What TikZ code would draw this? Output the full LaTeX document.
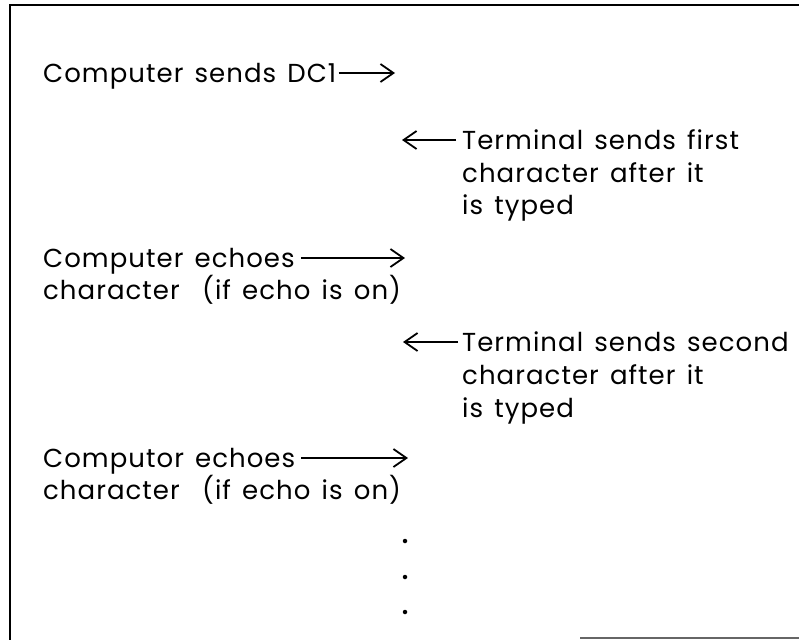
\documentclass[tikz,border=0pt]{standalone}
\usepackage{fontspec}
\setmainfont[LetterSpace=4,WordSpace=1.4]{Poppins}
\usetikzlibrary{arrows.meta}
\tikzset{
  txt/.style={anchor=base west, inner sep=0pt, font=\fontsize{26}{33}\selectfont},
  arr/.style={line width=1.8pt, -{Straight Barb[length=13pt,width=18pt,line width=1.8pt]}},
  frame/.style={line width=2pt},
  dotmark/.style={circle, fill, inner sep=0pt, minimum size=4.5pt}
}
\begin{document}
\begin{tikzpicture}[x=1pt,y=-1pt]
\useasboundingbox (0,0) rectangle (799,640);
% frame
\coordinate (fTR) at (799,5);
\coordinate (fTL) at (10,5);
\coordinate (fBL) at (10,640);
\coordinate (fB1) at (580,638);
\coordinate (fB2) at (799,638);
\draw[frame] (fTR) -- (fTL) -- (fBL);
\draw[frame, black!60] (fB1) -- (fB2);
% left texts
\node[txt] (c1) at (43,82) {Computer sends DC1};
\node[txt] (e1) at (43,267) {Computer echoes};
\node[txt] (e1b) at (43,299) {character\ \ (if echo is on)};
\node[txt] (e2) at (43,467) {Computor echoes};
\node[txt] (e2b) at (43,499) {character\ \ (if echo is on)};
% right texts
\node[txt] (t1) at (462,149) {Terminal sends first};
\node[txt] (t1b) at (462,182) {character after it};
\node[txt] (t1c) at (462,214) {is typed};
\node[txt] (t2) at (462,351) {Terminal sends second};
\node[txt] (t2b) at (462,384) {character after it};
\node[txt] (t2c) at (462,417) {is typed};
% arrow ends
\coordinate (a1) at (395,73);
\coordinate (b1) at (402,140);
\coordinate (a2) at (405,258);
\coordinate (b2) at (403,342);
\coordinate (a3) at (408,458);
% arrows
\draw[arr] (c1.east |- a1) ++(2,0) -- (a1);
\draw[arr] (t1.west |- b1) ++(-6,0) -- (b1);
\draw[arr] (e1.east |- a2) ++(6,0) -- (a2);
\draw[arr] (t2.west |- b2) ++(-4,0) -- (b2);
\draw[arr] (e2.east |- a3) ++(6,0) -- (a3);
% dots
\node[dotmark] (d1) at (405,541) {};
\node[dotmark] (d2) at (405,577) {};
\node[dotmark] (d3) at (405,612) {};
\end{tikzpicture}
\end{document}
